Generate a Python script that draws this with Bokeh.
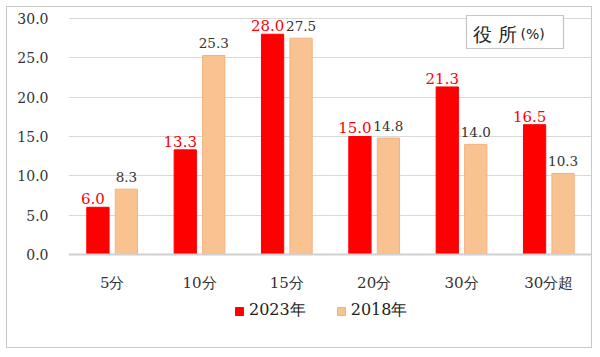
from bokeh.plotting import figure
from bokeh.models import (ColumnDataSource, FactorRange, Range1d, NumeralTickFormatter,
                          FixedTicker, Legend, LegendItem, BoxAnnotation, Label, Span)
from bokeh.transform import dodge
from bokeh.core.properties import value
from bokeh.embed import file_html
from bokeh.resources import INLINE

categories = ["5分", "10分", "15分", "20分", "30分", "30分超"]
values_2023 = [6.0, 13.3, 28.0, 15.0, 21.3, 16.5]
values_2018 = [8.3, 25.3, 27.5, 14.8, 14.0, 10.3]
series_names = ["2023年", "2018年"]
y_ticks = [0, 5, 10, 15, 20, 25, 30]
title_main = "役 所"
title_unit = "(%)"

FONT = "DejaVu Serif"
RED = "#FF0000"
ORANGE = "#F8C291"
ORANGE_LINE = "#F4B183"

src = ColumnDataSource(dict(
    cat=categories,
    v23=values_2023,
    v18=values_2018,
    t23=[f"{v:.1f}" for v in values_2023],
    t18=[f"{v:.1f}" for v in values_2018],
    zero=[0] * len(categories),
))

p = figure(x_range=FactorRange(*categories), y_range=Range1d(-12.08, 30.51),
           width=586, height=342, output_backend="svg", toolbar_location=None,
           x_axis_location=None,
           min_border_left=61, min_border_right=1, min_border_top=7, min_border_bottom=0,
           styles={"border": "1px solid #C8C8C8", "margin-left": "6px", "margin-top": "6px"})
p.outline_line_color = None
p.background_fill_color = "white"
p.border_fill_color = "white"

r23 = p.vbar(x=dodge("cat", -0.163, range=p.x_range), top="v23", width=0.255, source=src,
             fill_color=RED, line_color=RED)
r18 = p.vbar(x=dodge("cat", 0.163, range=p.x_range), top="v18", width=0.255, source=src,
             fill_color=ORANGE, line_color=ORANGE_LINE)

p.text(x=dodge("cat", -0.163, range=p.x_range), y="v23", text="t23", source=src,
       text_font=value(FONT), text_font_size="15px", text_color=RED,
       text_align="center", text_baseline="bottom", y_offset=-3, x_offset=-5)
p.text(x=dodge("cat", 0.163, range=p.x_range), y="v18", text="t18", source=src,
       text_font=value(FONT), text_font_size="13.5px", text_color="#333333",
       text_align="center", text_baseline="bottom", y_offset=-7)

# category labels under the baseline
p.text(x="cat", y="zero", text="cat", source=src,
       text_font=value(FONT), text_font_size="15px", text_color="#333333",
       text_align="center", text_baseline="middle", y_offset=29)

# baseline
p.add_layout(Span(location=0, dimension="width", line_color="#D0D0D0", line_width=2))

# y axis
p.yaxis.ticker = FixedTicker(ticks=y_ticks)
p.yaxis.formatter = NumeralTickFormatter(format="0.0")
p.yaxis.axis_line_color = None
p.yaxis.major_tick_line_color = None
p.yaxis.minor_tick_line_color = None
p.yaxis.major_tick_out = 0
p.yaxis.major_tick_in = 0
p.yaxis.major_label_standoff = 20
p.yaxis.major_label_text_font = FONT
p.yaxis.major_label_text_font_size = "14px"
p.yaxis.major_label_text_color = "#333333"

p.xgrid.grid_line_color = None
p.ygrid.ticker = FixedTicker(ticks=y_ticks)
p.ygrid.grid_line_color = "#D9D9D9"
p.ygrid.grid_line_width = 1

legend = Legend(items=[LegendItem(label=series_names[0], renderers=[r23]),
                       LegendItem(label=series_names[1], renderers=[r18])],
                orientation="horizontal", location=(166, 28),
                label_text_font=FONT, label_text_font_size="16px", label_text_color="#222222",
                glyph_width=10, glyph_height=10, spacing=30, label_standoff=5,
                border_line_color=None, background_fill_alpha=0, margin=0, padding=0)
p.add_layout(legend, "center")

# title box
p.add_layout(BoxAnnotation(left=4.557, right=5.668, top=30.38, bottom=26.19,
                           fill_color="white", fill_alpha=1,
                           line_color="#404040", line_width=1.2))
p.add_layout(Label(x=4.634, y=28.09, text=title_main, text_font="DejaVu Sans",
                   text_font_size="19px", text_color="#222222", text_baseline="middle"))
p.add_layout(Label(x=5.176, y=28.0, text=title_unit, text_font="DejaVu Sans",
                   text_font_size="14px", text_color="#222222", text_baseline="middle"))

open("out.html", "w").write(file_html(p, INLINE))
